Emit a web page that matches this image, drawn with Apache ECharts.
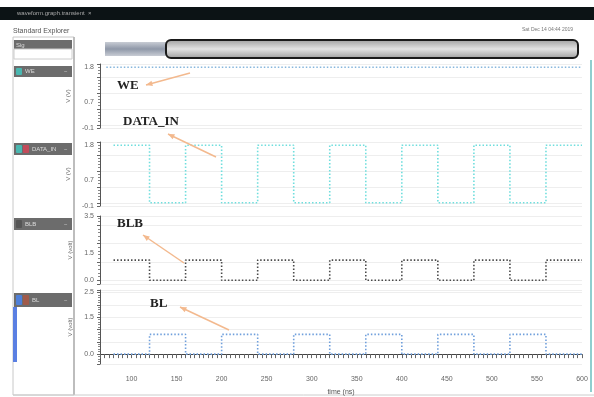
<!DOCTYPE html>
<html>
<head>
<meta charset="utf-8">
<script src="https://cdn.jsdelivr.net/npm/echarts@6/dist/echarts.min.js"></script>
<style>
html, body { margin: 0; padding: 0; background: #fff; }
#main { width: 594px; height: 397px; }
</style>
</head>
<body>
<div id="main"></div>
<script>
// time axis (ns)
var timeTicks = [100, 150, 200, 250, 300, 350, 400, 450, 500, 550, 600];

// signal edges, value held until next time
var weTimes = [72, 600];
var weValues = [1.8, 1.8];
var edgeTimes = [80, 120, 160, 200, 240, 280, 320, 360, 400, 440, 480, 520, 560, 600];
var dataInValues = [1.8, 0, 1.8, 0, 1.8, 0, 1.8, 0, 1.8, 0, 1.8, 0, 1.8, 1.8];
var blbValues = [1.1, 0, 1.1, 0, 1.1, 0, 1.1, 0, 1.1, 0, 1.1, 0, 1.1, 1.1];
var blValues = [0, 0.8, 0, 0.8, 0, 0.8, 0, 0.8, 0, 0.8, 0, 0.8, 0, 0];

// y tick labels of each strip
var weLabels = [-0.1, 0.7, 1.8];
var dataInLabels = [-0.1, 0.7, 1.8];
var blbLabels = [0, 1.5, 3.5];
var blLabels = [0, 1.5, 2.5];

function pairs(t, v) {
    var out = [];
    for (var i = 0; i < t.length; i++) out.push([t[i], v[i]]);
    return out;
}

var chart = echarts.init(document.getElementById('main'));

var grids = [
    {left: 100, right: 12, top: 64, height: 64},
    {left: 100, right: 12, top: 142, height: 64},
    {left: 100, right: 12, top: 216, height: 68},
    {left: 100, right: 12, top: 290, height: 74}
];

var minorX = [];
for (var t = 65; t <= 600; t += 5) minorX.push(t);

function xAxis(i) {
    var last = i === 3;
    return {
        type: 'value', gridIndex: i, min: 65, max: 600,
        show: true,
        name: last ? 'time (ns)' : '',
        nameLocation: 'middle', nameGap: 25,
        nameTextStyle: {fontSize: 7, color: '#555'},
        axisLine: {show: last, lineStyle: {color: '#444'}},
        axisTick: {show: last, customValues: minorX, length: 4, lineStyle: {color: '#666'}},
        axisLabel: {show: last, customValues: timeTicks, fontSize: 7, color: '#666', margin: 12},
        splitLine: {show: false}
    };
}

function yAxis(i, min, max, labels, name) {
    return {
        type: 'value', gridIndex: i, min: min, max: max,
        name: name, nameLocation: 'middle', nameGap: 15, nameRotate: 90,
        nameTextStyle: {fontSize: 6, color: '#666'},
        axisLine: {show: true, lineStyle: {color: '#555'}},
        axisTick: {show: true, length: 3, lineStyle: {color: '#666'}},
        minorTick: {show: true, splitNumber: 5, length: 2, lineStyle: {color: '#888'}},
        axisLabel: {customValues: labels, fontSize: 7, color: '#666', margin: 6,
            formatter: function (v) { return v.toFixed(1); }},
        splitLine: {show: true, lineStyle: {color: '#eeeeee'}}
    };
}

function sig(i, data, color) {
    return {
        type: 'line', xAxisIndex: i, yAxisIndex: i, step: 'end',
        data: data, symbol: 'none', animation: false,
        lineStyle: {color: color, width: 1.6, type: [1.5, 2]}
    };
}

function arrow(x1, y1, x2, y2) {
    var a = Math.atan2(y2 - y1, x2 - x1), L = 7, w = 0.4;
    return [
        {type: 'line', z: 100, shape: {x1: x1, y1: y1, x2: x2, y2: y2},
            style: {stroke: '#f3b98e', lineWidth: 1.5}},
        {type: 'polygon', z: 100, shape: {points: [[x2, y2],
            [x2 - L * Math.cos(a - w), y2 - L * Math.sin(a - w)],
            [x2 - L * Math.cos(a + w), y2 - L * Math.sin(a + w)]]},
            style: {fill: '#f3b98e'}}
    ];
}

function label(x, y, text) {
    return {type: 'text', z: 100, x: x, y: y, style: {text: text, fill: '#222',
        font: 'bold 13px "Liberation Serif", serif'}};
}

function header(y, h, colors, text) {
    var g = [{type: 'rect', shape: {x: 14, y: y, width: 58, height: h}, style: {fill: '#6c6c6c'}}];
    for (var i = 0; i < colors.length; i++) {
        g.push({type: 'rect', shape: {x: 16 + i * 7, y: y + 2, width: 6, height: h - 4, r: 1},
            style: {fill: colors[i]}});
    }
    g.push({type: 'text', x: 18 + colors.length * 7, y: y + h / 2 - 3,
        style: {text: text, fill: '#ddd', font: '6px sans-serif'}});
    g.push({type: 'text', x: 64, y: y + h / 2 - 3, style: {text: '−', fill: '#ccc', font: '6px sans-serif'}});
    return g;
}

var graphics = [
    {type: 'rect', shape: {x: 0, y: 7, width: 594, height: 13}, style: {fill: '#0c1315'}},
    {type: 'text', x: 17, y: 10, style: {text: 'waveform.graph.transient  ×', fill: '#aaa', font: '6px sans-serif'}},
    {type: 'text', x: 13, y: 28, style: {text: 'Standard Explorer', fill: '#555', font: '7px sans-serif'}},
    {type: 'text', x: 522, y: 27, style: {text: 'Sat Dec 14 04:44 2019', fill: '#777', font: '5px sans-serif'}},
    {type: 'rect', shape: {x: 13, y: 37, width: 61, height: 358}, style: {fill: 'none', stroke: '#c8c8c8'}},
    {type: 'line', shape: {x1: 74, y1: 37, x2: 74, y2: 395}, style: {stroke: '#b0b0b0', lineWidth: 1.5}},
    {type: 'rect', shape: {x: 14, y: 40, width: 58, height: 9}, style: {fill: '#6c6c6c'}},
    {type: 'text', x: 16, y: 42, style: {text: 'Sig', fill: '#ddd', font: '6px sans-serif'}},
    {type: 'rect', shape: {x: 14, y: 49, width: 58, height: 10}, style: {fill: '#fff', stroke: '#ccc'}},
    {type: 'rect', shape: {x: 13, y: 307, width: 4, height: 55}, style: {fill: '#5a7fe2'}},
    {type: 'rect', shape: {x: 105, y: 42, width: 70, height: 14},
        style: {fill: new echarts.graphic.LinearGradient(0, 0, 0, 1,
            [{offset: 0, color: '#c8ccd4'}, {offset: 0.5, color: '#8f98a8'}, {offset: 1, color: '#c8ccd4'}])}},
    {type: 'rect', shape: {x: 166, y: 40, width: 412, height: 18, r: 5},
        style: {stroke: '#1a1a1a', lineWidth: 2,
            fill: new echarts.graphic.LinearGradient(0, 0, 0, 1,
                [{offset: 0, color: '#9a9a9a'}, {offset: 0.5, color: '#e2e2e2'}, {offset: 1, color: '#9a9a9a'}])}},
    {type: 'line', shape: {x1: 591, y1: 60, x2: 591, y2: 392}, style: {stroke: '#8ecfcf', lineWidth: 2}},
    {type: 'line', shape: {x1: 13, y1: 395, x2: 594, y2: 395}, style: {stroke: '#ccc'}},
    label(117, 79, 'WE'),
    label(123, 115, 'DATA_IN'),
    label(117, 217, 'BLB'),
    label(150, 297, 'BL')
];
graphics = graphics
    .concat(header(66, 11, ['#49b7b0'], 'WE'))
    .concat(header(143, 12, ['#49b7b0', '#c24b5a'], 'DATA_IN'))
    .concat(header(218, 12, ['#555'], 'BLB'))
    .concat(header(293, 14, ['#4e7fd8', '#a05a4a'], 'BL'))
    .concat(arrow(190, 73, 146, 85))
    .concat(arrow(216, 157, 168, 134))
    .concat(arrow(184, 263, 143, 235))
    .concat(arrow(229, 330, 180, 307));

chart.setOption({
    backgroundColor: '#fff',
    animation: false,
    grid: grids,
    xAxis: [xAxis(0), xAxis(1), xAxis(2), xAxis(3)],
    yAxis: [
        yAxis(0, -0.1, 1.9, weLabels, 'V (V)'),
        yAxis(1, -0.1, 1.9, dataInLabels, 'V (V)'),
        yAxis(2, -0.2, 3.5, blbLabels, 'V (volt)'),
        yAxis(3, -0.4, 2.6, blLabels, 'V (volt)')
    ],
    series: [
        sig(0, pairs(weTimes, weValues), '#86b6dc'),
        sig(1, pairs(edgeTimes, dataInValues), '#6fdedd'),
        sig(2, pairs(edgeTimes, blbValues), '#4a4a4a'),
        sig(3, pairs(edgeTimes, blValues), '#6f9fdc')
    ],
    graphic: graphics
});
</script>
</body>
</html>
